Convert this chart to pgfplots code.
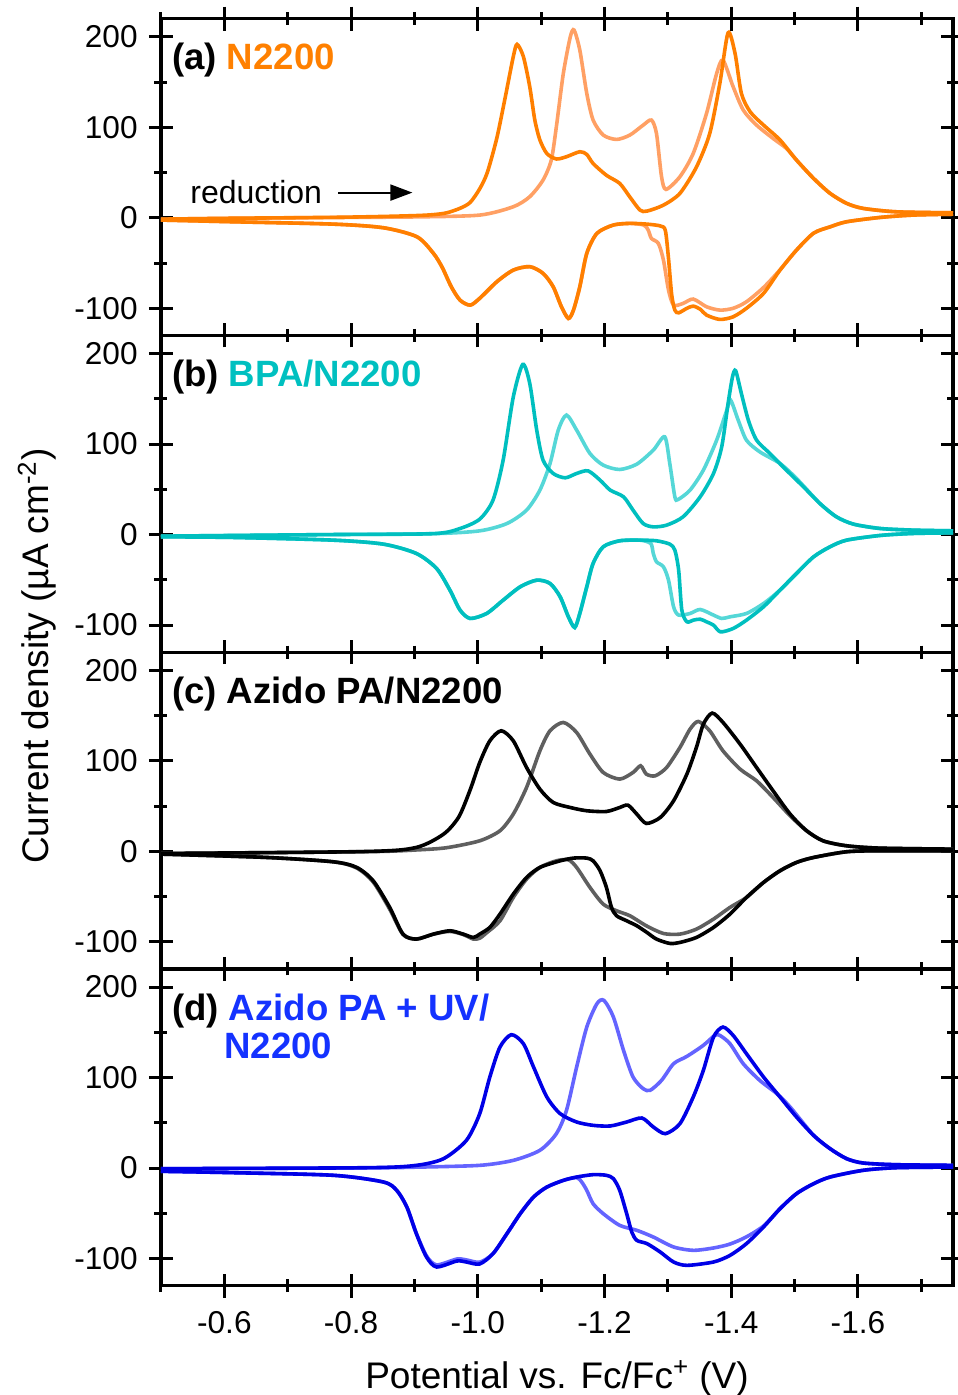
\documentclass[border=0pt]{standalone}
\usepackage{pgfplots}
\pgfplotsset{compat=1.18}
\usepackage{fontspec}
\setmainfont{Liberation Sans}
\usetikzlibrary{arrows.meta}

\definecolor{orD}{HTML}{FF7F00}
\definecolor{orL}{HTML}{FFA064}
\definecolor{cyD}{HTML}{00BFBF}
\definecolor{cyL}{HTML}{55D7D7}
\definecolor{gyD}{HTML}{000000}
\definecolor{gyL}{HTML}{5F5F5F}
\definecolor{blD}{HTML}{0000E6}
\definecolor{blL}{HTML}{6464FF}
\definecolor{lblOr}{HTML}{FF8000}
\definecolor{lblCy}{HTML}{00C0C0}
\definecolor{lblBl}{HTML}{1432FF}

\pgfplotsset{
  cvpanel/.style={
    scale only axis, width=396pt, height=158.375pt,
    x dir=reverse, xmin=-1.75, xmax=-0.5, ymin=-130, ymax=220,
    xtick={-0.6,-0.8,-1.0,-1.2,-1.4,-1.6},
    minor xtick={-0.5,-0.7,-0.9,-1.1,-1.3,-1.5,-1.7},
    ytick={-100,0,100,200}, minor ytick={-50,50,150},
    yticklabels={-100,0,100,200},
    xticklabels={},
    tick align=center, major tick length=12pt, minor tick length=6.5pt,
    tick style={black, line width=1.5pt},
    axis line style={line width=1.6pt},
    ticklabel style={font=\fontsize{15.8}{18}\selectfont},
    yticklabel style={anchor=east, inner sep=0pt, xshift=-5.5pt},
    xticklabel style={anchor=north, inner sep=0pt, yshift=-6.6pt},
    every axis plot/.append style={line width=1.8pt, smooth, tension=0.45, mark=none},
  }
}

\begin{document}
\begin{tikzpicture}
\useasboundingbox (0,0) rectangle (478.5pt,-697.5pt);

% (a) N2200
\begin{axis}[cvpanel, at={(80.5pt,-9.35pt)}, anchor=north west]
\addplot[orL] coordinates {(-1.750,4) (-1.687,3) (-1.635,0.4) (-1.582,-4.4) (-1.556,-10) (-1.530,-17) (-1.503,-35.7) (-1.477,-57.5) (-1.451,-77) (-1.424,-92.8) (-1.403,-100) (-1.382,-102) (-1.361,-98.3) (-1.340,-89.8) (-1.324,-94.6) (-1.309,-96.4) (-1.301,-79.9) (-1.293,-46.7) (-1.285,-28.3) (-1.274,-22.8) (-1.269,-13.6) (-1.262,-8) (-1.240,-6.2) (-1.214,-8) (-1.188,-17.2) (-1.172,-39.3) (-1.161,-76.2) (-1.151,-102) (-1.143,-111.2) (-1.132,-98.3) (-1.119,-76.2) (-1.103,-61.4) (-1.082,-54) (-1.056,-57.8) (-1.030,-70.7) (-1.003,-89) (-0.988,-96.5) (-0.972,-91) (-0.958,-76) (-0.944,-55) (-0.930,-39.3) (-0.904,-21) (-0.851,-11) (-0.772,-7) (-0.614,-4.4) (-0.500,-2.5)};
\addplot[orL] coordinates {(-0.500,-1.5) (-0.614,-0.5) (-0.772,0.3) (-0.904,1) (-1.003,3) (-1.056,12.2) (-1.082,23.3) (-1.103,41.7) (-1.116,63.8) (-1.124,100.6) (-1.135,159.5) (-1.146,200) (-1.152,207.4) (-1.161,185.3) (-1.172,137.4) (-1.182,108) (-1.198,91.4) (-1.219,86.6) (-1.240,91.4) (-1.261,102.4) (-1.274,108) (-1.282,93.2) (-1.290,45.4) (-1.297,31.4) (-1.319,45.4) (-1.340,71.1) (-1.361,115.3) (-1.377,159.5) (-1.387,174.2) (-1.403,144.8) (-1.419,119) (-1.440,102.4) (-1.466,87.7) (-1.487,76.7) (-1.503,63.8) (-1.530,43.5) (-1.556,27) (-1.582,16) (-1.608,10.4) (-1.661,6.6) (-1.750,5.5)};
\addplot[orD] coordinates {(-1.750,4) (-1.687,3) (-1.635,0.4) (-1.582,-4.4) (-1.556,-10) (-1.530,-17) (-1.503,-35.7) (-1.477,-57.8) (-1.451,-83.5) (-1.424,-100) (-1.403,-109.4) (-1.382,-112.3) (-1.361,-107.5) (-1.351,-101) (-1.340,-97.6) (-1.330,-100) (-1.317,-105) (-1.311,-102) (-1.306,-85) (-1.301,-45) (-1.296,-14) (-1.288,-9) (-1.267,-7) (-1.240,-6.2) (-1.214,-8) (-1.188,-17.2) (-1.172,-39.3) (-1.161,-76.2) (-1.151,-102) (-1.143,-111.2) (-1.132,-98.3) (-1.119,-76.2) (-1.103,-61.4) (-1.082,-54) (-1.056,-57.8) (-1.030,-70.7) (-1.003,-89) (-0.988,-96.5) (-0.972,-91) (-0.958,-76) (-0.944,-55) (-0.930,-39.3) (-0.904,-21) (-0.851,-11) (-0.772,-7) (-0.614,-4.4) (-0.500,-2.5)};
\addplot[orD] coordinates {(-0.500,-1.5) (-0.614,-0.5) (-0.772,0.5) (-0.851,1.5) (-0.904,2.5) (-0.930,3.5) (-0.951,5.5) (-0.972,10.5) (-0.988,17) (-1.003,32) (-1.015,50) (-1.030,88) (-1.043,132) (-1.056,178) (-1.062,191.6) (-1.072,178) (-1.082,144.8) (-1.090,108) (-1.098,86) (-1.109,71) (-1.124,65) (-1.140,67.5) (-1.161,73) (-1.172,70) (-1.182,60) (-1.203,47) (-1.224,38) (-1.240,23) (-1.256,8.5) (-1.267,7.4) (-1.293,14) (-1.319,27) (-1.345,56) (-1.366,93) (-1.382,148.5) (-1.395,204.4) (-1.406,181.7) (-1.416,137.5) (-1.430,117) (-1.451,102.4) (-1.477,86) (-1.503,63.8) (-1.530,43.5) (-1.556,27) (-1.582,16) (-1.608,10.4) (-1.661,6.6) (-1.750,5.5)};
\end{axis}

% (b) BPA/N2200
\begin{axis}[cvpanel, at={(80.5pt,-167.725pt)}, anchor=north west]
\addplot[cyL] coordinates {(-1.750,1.9) (-1.687,1.2) (-1.635,-1) (-1.582,-6.2) (-1.556,-13.5) (-1.530,-24.6) (-1.503,-43) (-1.477,-61.4) (-1.451,-76.2) (-1.424,-87.2) (-1.398,-90.9) (-1.385,-92.7) (-1.372,-89) (-1.351,-82.8) (-1.335,-87.2) (-1.317,-89) (-1.309,-79.8) (-1.301,-50.4) (-1.293,-35.6) (-1.282,-30.1) (-1.277,-20.9) (-1.273,-9.9) (-1.256,-6.2) (-1.224,-6.9) (-1.198,-13.5) (-1.182,-31.9) (-1.172,-57.7) (-1.161,-87.2) (-1.153,-102.7) (-1.143,-90.9) (-1.130,-68.8) (-1.114,-54) (-1.093,-50.4) (-1.067,-57.7) (-1.040,-72.5) (-1.014,-87.2) (-0.988,-92.7) (-0.972,-83.5) (-0.956,-61.4) (-0.935,-37.5) (-0.903,-20.9) (-0.851,-10.6) (-0.772,-6.2) (-0.614,-3.2) (-0.500,-2.5)};
\addplot[cyL] coordinates {(-0.500,-1.8) (-0.772,0) (-0.930,1) (-1.003,4.1) (-1.046,12.2) (-1.077,27) (-1.098,49.1) (-1.114,78.5) (-1.127,115.4) (-1.140,132) (-1.156,115.4) (-1.177,89.6) (-1.198,76.7) (-1.224,71.9) (-1.251,77.8) (-1.277,93.3) (-1.295,108) (-1.303,78.5) (-1.311,41.7) (-1.316,38.7) (-1.335,49.1) (-1.356,71.2) (-1.377,104.3) (-1.393,137.5) (-1.399,148.5) (-1.411,126.4) (-1.424,104.3) (-1.445,91.4) (-1.477,78.5) (-1.503,62) (-1.540,34.3) (-1.566,19.6) (-1.593,11.5) (-1.635,6.7) (-1.687,4.9) (-1.750,4.1)};
\addplot[cyD] coordinates {(-1.750,1.9) (-1.687,1.2) (-1.635,-1) (-1.582,-6.2) (-1.556,-13.5) (-1.530,-24.6) (-1.503,-43) (-1.477,-61.4) (-1.451,-79.8) (-1.424,-94.6) (-1.403,-103.8) (-1.383,-107.5) (-1.372,-100.1) (-1.361,-96.4) (-1.351,-93.5) (-1.340,-94.6) (-1.330,-96.4) (-1.322,-83.5) (-1.317,-39.3) (-1.311,-17.2) (-1.303,-10.6) (-1.282,-6.9) (-1.256,-6.2) (-1.224,-6.9) (-1.198,-13.5) (-1.182,-31.9) (-1.172,-57.7) (-1.161,-87.2) (-1.153,-102.7) (-1.143,-90.9) (-1.130,-68.8) (-1.114,-54) (-1.093,-50.4) (-1.067,-57.7) (-1.040,-72.5) (-1.014,-87.2) (-0.988,-92.7) (-0.972,-83.5) (-0.956,-61.4) (-0.935,-37.5) (-0.903,-20.9) (-0.851,-10.6) (-0.772,-6.2) (-0.614,-3.2) (-0.500,-2.5)};
\addplot[cyD] coordinates {(-0.500,-1.8) (-0.614,-1) (-0.772,0) (-0.930,1) (-0.972,6.7) (-1.003,17) (-1.024,38) (-1.040,82.2) (-1.056,152) (-1.071,188) (-1.082,167) (-1.093,115.4) (-1.103,82.2) (-1.119,67.5) (-1.138,62.7) (-1.156,67.5) (-1.174,70.4) (-1.193,60.1) (-1.209,49.1) (-1.230,41.7) (-1.245,27) (-1.261,12.2) (-1.277,8.5) (-1.298,10.4) (-1.324,19.6) (-1.351,41.7) (-1.372,67.5) (-1.385,97) (-1.395,144.8) (-1.402,174.3) (-1.407,181) (-1.416,155.9) (-1.427,126.4) (-1.440,104.3) (-1.461,89.6) (-1.487,71.2) (-1.514,52.7) (-1.540,34.3) (-1.566,19.6) (-1.593,11.5) (-1.635,6.7) (-1.687,4.9) (-1.750,4.1)};
\end{axis}

% (c) Azido PA/N2200
\begin{axis}[cvpanel, at={(80.5pt,-326.1pt)}, anchor=north west]
\addplot[gyL] coordinates {(-1.750,0.6) (-1.635,0.6) (-1.582,-0.5) (-1.530,-6.8) (-1.503,-12.3) (-1.477,-21.5) (-1.451,-34.4) (-1.424,-51) (-1.398,-62) (-1.372,-74.9) (-1.345,-86) (-1.319,-91.5) (-1.293,-90.8) (-1.266,-82.3) (-1.240,-71.2) (-1.219,-65.7) (-1.198,-58.4) (-1.177,-39.9) (-1.156,-17.8) (-1.143,-9.4) (-1.124,-10.5) (-1.098,-17.8) (-1.077,-30.7) (-1.056,-51) (-1.035,-76.8) (-1.014,-90) (-1.003,-96) (-0.993,-97) (-0.977,-92) (-0.956,-88.5) (-0.930,-91.5) (-0.903,-97) (-0.882,-92) (-0.861,-64) (-0.835,-34) (-0.809,-18.5) (-0.772,-11.6) (-0.667,-6.8) (-0.500,-3.1)};
\addplot[gyL] coordinates {(-0.500,-2.4) (-0.825,-0.4) (-0.903,1.5) (-0.951,4) (-1.003,11.6) (-1.035,22.7) (-1.056,41.1) (-1.077,70.6) (-1.098,111) (-1.114,133.2) (-1.135,142.4) (-1.156,131.3) (-1.177,107.4) (-1.198,87.1) (-1.224,79.8) (-1.245,87.1) (-1.257,94.5) (-1.266,85.3) (-1.280,83.4) (-1.298,92.6) (-1.319,114.7) (-1.335,135) (-1.348,143.5) (-1.366,133.2) (-1.387,111) (-1.414,90.8) (-1.440,77.9) (-1.466,59.5) (-1.493,39.2) (-1.519,22.7) (-1.545,11.6) (-1.582,6.1) (-1.635,3.5) (-1.750,2.4)};
\addplot[gyD] coordinates {(-1.750,0.6) (-1.635,0.6) (-1.582,-0.5) (-1.530,-6.8) (-1.503,-12.3) (-1.477,-21.5) (-1.451,-34.4) (-1.424,-51) (-1.398,-69.4) (-1.372,-84.1) (-1.345,-95.2) (-1.319,-100.7) (-1.303,-101.8) (-1.282,-97) (-1.267,-89.7) (-1.251,-82.3) (-1.235,-76.8) (-1.219,-71.2) (-1.211,-62) (-1.203,-39.9) (-1.193,-21.5) (-1.182,-10.5) (-1.172,-7.5) (-1.151,-7.5) (-1.130,-10.5) (-1.098,-17.8) (-1.077,-28.9) (-1.056,-47.3) (-1.035,-69.4) (-1.019,-84.1) (-1.003,-91.5) (-0.993,-95.2) (-0.977,-91.5) (-0.956,-87.8) (-0.930,-91.5) (-0.903,-97) (-0.882,-91.5) (-0.861,-62) (-0.835,-32.6) (-0.809,-17.8) (-0.772,-11.6) (-0.667,-6.8) (-0.500,-3.1)};
\addplot[gyD] coordinates {(-0.500,-2.4) (-0.825,-0.2) (-0.903,4.3) (-0.946,19) (-0.970,38) (-0.988,68) (-1.003,98) (-1.019,122.1) (-1.037,133.2) (-1.056,122.1) (-1.077,92.6) (-1.098,68.7) (-1.119,54) (-1.146,48.4) (-1.172,44.8) (-1.203,44) (-1.224,48.4) (-1.237,51) (-1.251,41.1) (-1.266,30.8) (-1.288,37.4) (-1.309,55.8) (-1.330,85.3) (-1.345,114.7) (-1.356,140.5) (-1.370,152.7) (-1.387,142.4) (-1.414,118.4) (-1.440,92.6) (-1.466,66.9) (-1.493,41.1) (-1.519,22.7) (-1.545,11.6) (-1.582,6.1) (-1.635,3.5) (-1.750,2.4)};
\end{axis}

% (d) Azido PA + UV/N2200
\begin{axis}[cvpanel, at={(80.5pt,-484.475pt)}, anchor=north west,
  xticklabels={-0.6,-0.8,-1.0,-1.2,-1.4,-1.6}]
\addplot[blL] coordinates {(-1.750,1.1) (-1.661,0.4) (-1.608,-2.5) (-1.556,-9.9) (-1.530,-17.3) (-1.503,-28.3) (-1.477,-44.9) (-1.451,-64) (-1.424,-76) (-1.398,-84) (-1.372,-88.3) (-1.340,-90.9) (-1.309,-87.2) (-1.277,-76.2) (-1.251,-68.8) (-1.224,-63.3) (-1.198,-50.4) (-1.182,-39.4) (-1.172,-24.6) (-1.164,-15.4) (-1.156,-10.5) (-1.135,-13.6) (-1.109,-21) (-1.088,-32) (-1.067,-50.4) (-1.046,-72.5) (-1.024,-94.6) (-1.003,-104) (-0.982,-101.5) (-0.967,-100.5) (-0.935,-107) (-0.919,-97) (-0.903,-72) (-0.888,-43) (-0.872,-24.6) (-0.851,-15.4) (-0.772,-8) (-0.614,-5.1) (-0.500,-3.6)};
\addplot[blL] coordinates {(-0.500,-0.7) (-0.825,0.2) (-0.903,1) (-1.003,3) (-1.056,8.5) (-1.098,19.6) (-1.124,38) (-1.140,63.8) (-1.156,111.6) (-1.172,155.8) (-1.188,181.6) (-1.199,185.3) (-1.214,166.9) (-1.230,130) (-1.245,100.6) (-1.261,87.7) (-1.272,85.9) (-1.290,96.9) (-1.309,115.3) (-1.330,123.4) (-1.356,135.6) (-1.374,146.6) (-1.382,146.6) (-1.398,137.4) (-1.419,115.3) (-1.445,96.9) (-1.472,82.2) (-1.493,67.4) (-1.530,36.1) (-1.556,21.4) (-1.582,10.4) (-1.608,5.6) (-1.661,3.7) (-1.750,3)};
\addplot[blD] coordinates {(-1.750,1.1) (-1.661,0.4) (-1.608,-2.5) (-1.556,-9.9) (-1.530,-17.3) (-1.503,-28.3) (-1.477,-44.9) (-1.451,-65.1) (-1.424,-83.5) (-1.398,-96.5) (-1.372,-103.8) (-1.330,-107.5) (-1.309,-103.8) (-1.288,-92.8) (-1.267,-83.5) (-1.251,-79.9) (-1.243,-70.7) (-1.235,-50.4) (-1.224,-24.6) (-1.214,-11.7) (-1.203,-8) (-1.182,-7.3) (-1.156,-9.9) (-1.135,-13.6) (-1.109,-21) (-1.088,-32) (-1.067,-50.4) (-1.046,-72.5) (-1.024,-94.6) (-1.003,-106) (-0.982,-103.8) (-0.967,-102.7) (-0.935,-109.3) (-0.919,-98.3) (-0.903,-72.5) (-0.888,-43) (-0.872,-24.6) (-0.851,-15.4) (-0.772,-8) (-0.614,-5.1) (-0.500,-3.6)};
\addplot[blD] coordinates {(-0.500,-0.7) (-0.825,0.4) (-0.903,3) (-0.946,10.4) (-0.982,30.6) (-1.003,60) (-1.019,100.6) (-1.035,133.7) (-1.053,147.4) (-1.072,137.4) (-1.088,111.6) (-1.109,78.5) (-1.130,60.1) (-1.156,50.9) (-1.182,47.2) (-1.209,46.5) (-1.235,50.9) (-1.259,55.3) (-1.277,45.4) (-1.296,38) (-1.319,49) (-1.340,78.5) (-1.356,108) (-1.372,144.8) (-1.387,155.8) (-1.403,146.6) (-1.424,126.4) (-1.451,100.6) (-1.477,78.5) (-1.503,56.4) (-1.530,36.1) (-1.556,21.4) (-1.582,10.4) (-1.608,5.6) (-1.661,3.7) (-1.750,3)};
\end{axis}

% panel titles
\begin{scope}[every node/.style={anchor=base west, inner sep=0pt, font=\bfseries\fontsize{18.3}{22}\selectfont}]
\node at (85.8pt,-35pt) {(a) \textcolor{lblOr}{N2200}};
\node at (85.8pt,-193.3pt) {(b) \textcolor{lblCy}{BPA/N2200}};
\node at (85.8pt,-351.7pt) {(c) Azido PA/N2200};
\node at (85.8pt,-510pt) {(d) \textcolor{lblBl}{Azido PA + UV/}};
\node[text=lblBl] at (112pt,-529.2pt) {N2200};
\end{scope}

% sweep direction
\node[anchor=base west, inner sep=0pt, font=\fontsize{16}{19}\selectfont] at (95pt,-102pt) {reduction};
\draw[line width=1pt, -{Triangle[length=11pt,width=8pt]}] (169.2pt,-96.3pt) -- (206.2pt,-96.3pt);

% axis titles
\node[rotate=90, anchor=base, inner sep=0pt, font=\fontsize{18.5}{22}\selectfont] at (24.2pt,-328pt) {Current density (µA cm\textsuperscript{-2})};
\node[anchor=base, inner sep=0pt, font=\fontsize{18.5}{22}\selectfont] at (278.5pt,-694pt) {Potential vs. Fc/Fc\textsuperscript{+} (V)};
\end{tikzpicture}
\end{document}
